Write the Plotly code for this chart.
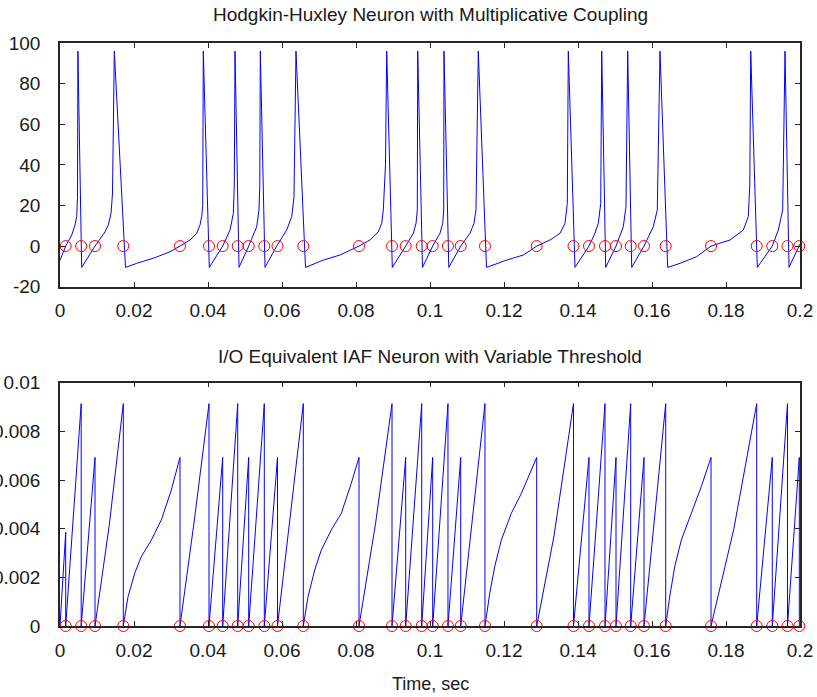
import plotly.graph_objects as go

# Hodgkin-Huxley membrane voltage (mV), turning points
hh_t = [0.0, 0.00154, 0.00316, 0.00405, 0.00451, 0.00473, 0.00484,
        0.00586, 0.00946, 0.01216, 0.01305, 0.01378, 0.01419, 0.01468,
        0.01770, 0.02073, 0.02522, 0.02973, 0.03243, 0.03514, 0.03695, 0.03784, 0.03830, 0.03857, 0.03873,
        0.04035, 0.04397, 0.04595, 0.04684, 0.04711, 0.04730,
        0.04838, 0.05100, 0.05316, 0.05378, 0.05400, 0.05414,
        0.05541, 0.05857, 0.06127, 0.06262, 0.06324, 0.06378,
        0.06635, 0.07116, 0.07568, 0.08081, 0.08378, 0.08603, 0.08695, 0.08738, 0.08797, 0.08830,
        0.08981, 0.09343, 0.09549, 0.09622, 0.09657, 0.09668,
        0.09797, 0.10073, 0.10270, 0.10343, 0.10370, 0.10378,
        0.10508, 0.10830, 0.11081, 0.11189, 0.11243, 0.11305,
        0.11527, 0.12073, 0.12522, 0.12884, 0.13243, 0.13514, 0.13649, 0.13711, 0.13738,
        0.13919, 0.14297, 0.14459, 0.14549, 0.14614, 0.14641,
        0.14749, 0.15027, 0.15224, 0.15297, 0.15343,
        0.15451, 0.15784, 0.16035, 0.16143, 0.16216,
        0.16424, 0.16757, 0.17208, 0.17595, 0.18108, 0.18468, 0.18603, 0.18643, 0.18668,
        0.18846, 0.19251, 0.19414, 0.19532, 0.19595,
        0.19703, 0.19981, 0.2]
hh_v = [-7, 0, 5.4, 10.4, 14.5, 24, 96,
        -10.5, 0, 7, 10.4, 16, 26, 96,
        -10.5, -8.5, -6, -2.8, 0, 3, 6.3, 10.4, 14.5, 20, 96,
        -10.5, 0, 7.9, 16, 30, 96,
        -10.5, 0, 9.5, 17.8, 30, 96,
        -10.5, 0, 7.9, 14.5, 24, 96,
        -10.5, -6.9, -4.4, 0, 3, 7, 11.2, 17.8, 40, 96,
        -10.5, 0, 6.3, 11.2, 17.8, 96,
        -10.5, 0, 6.3, 11.2, 17.8, 96,
        -10.5, 0, 6.3, 11.2, 17.8, 96,
        -10.5, -6.9, -4.4, 0, 3, 6.3, 11.2, 21, 96,
        -10.5, 0, 6.3, 11.2, 21, 96,
        -10.5, 0, 9.5, 19.5, 96,
        -10.5, 0, 9.5, 17.8, 96,
        -10.5, -8.5, -5.2, 0, 3, 7.9, 14.5, 30, 96,
        -10.5, 0, 7.9, 17.8, 96,
        -10.5, 0, 1]

# trigger times (zero crossings of the HH voltage) = IAF spike times
spike_t = [0.00154, 0.00573, 0.00946, 0.01711, 0.03243, 0.04027, 0.04397, 0.04803,
           0.05100, 0.05522, 0.05878, 0.06576, 0.08081, 0.08973, 0.09343, 0.09776,
           0.10073, 0.10486, 0.10830, 0.11486, 0.12884, 0.13878, 0.14297, 0.14730,
           0.15027, 0.15424, 0.15784, 0.16370, 0.17595, 0.18830, 0.19251, 0.19662,
           0.19981]
# integrator value reached at each trigger (variable threshold)
iaf_peak = [0.00385, 0.00914, 0.00693, 0.00914, 0.00693, 0.00914, 0.00693, 0.00914,
            0.00693, 0.00914, 0.00693, 0.00914, 0.00693, 0.00914, 0.00693, 0.00914,
            0.00693, 0.00914, 0.00693, 0.00914, 0.00693, 0.00914, 0.00693, 0.00914,
            0.00693, 0.00914, 0.00693, 0.00914, 0.00693, 0.00914, 0.00693, 0.00914,
            0.00693]
# extra points on the curved integrator ramps (key = spike number that ends the ramp)
ramp_t = {4: [0.01328],
          5: [0.01838, 0.02019, 0.02197, 0.02468, 0.02738, 0.03008],
          6: [0.03635],
          13: [0.06703, 0.06884, 0.07062, 0.07332, 0.07603, 0.07873],
          14: [0.08527],
          21: [0.11614, 0.11749, 0.11927, 0.12197, 0.12468, 0.12738],
          22: [0.13351],
          29: [0.16478, 0.16614, 0.16792, 0.17062, 0.17332],
          30: [0.18213]}
ramp_v = {4: [0.0041],
          5: [0.0012, 0.00217, 0.00285, 0.00353, 0.00436, 0.00559],
          6: [0.0044],
          13: [0.0012, 0.0023, 0.00312, 0.00395, 0.00463, 0.00587],
          14: [0.0042],
          21: [0.00134, 0.00244, 0.00353, 0.00463, 0.00545, 0.00641],
          22: [0.0037],
          29: [0.0012, 0.00244, 0.00353, 0.00463, 0.00573],
          30: [0.0040]}

# top panel y ticks (plain hyphen for the negative label, as in the original)
v_ticks = [-20, 0, 20, 40, 60, 80, 100]
v_ticktext = ["-20", "0", "20", "40", "60", "80", "100"]

iaf_x, iaf_y = [0.0], [0.0]
for k, (tk, pk) in enumerate(zip(spike_t, iaf_peak), 1):
    iaf_x += ramp_t.get(k, [])
    iaf_y += ramp_v.get(k, [])
    iaf_x += [tk, tk]
    iaf_y += [pk, 0.0]

FONT = "Liberation Sans, Arial, sans-serif"
BLUE = "#0000ff"
RED = "#ff0000"
TXT = "#1a1a1a"

fig = go.Figure()
fig.add_trace(go.Scatter(x=hh_t, y=hh_v, mode="lines", line=dict(color=BLUE, width=1),
                         xaxis="x", yaxis="y"))
fig.add_trace(go.Scatter(x=spike_t, y=[0] * len(spike_t), mode="markers", cliponaxis=False,
                         marker=dict(symbol="circle-open", size=11, color=RED, line=dict(width=1)),
                         xaxis="x", yaxis="y"))
fig.add_trace(go.Scatter(x=iaf_x, y=iaf_y, mode="lines", line=dict(color=BLUE, width=1),
                         xaxis="x2", yaxis="y2"))
fig.add_trace(go.Scatter(x=spike_t, y=[0] * len(spike_t), mode="markers", cliponaxis=False,
                         marker=dict(symbol="circle-open", size=11, color=RED, line=dict(width=1)),
                         xaxis="x2", yaxis="y2"))

ax = dict(showline=True, linecolor="#262626", linewidth=1.5, mirror="allticks",
          ticks="inside", ticklen=5, tickwidth=1, tickcolor="#262626",
          showgrid=False, zeroline=False, automargin=False,
          tickfont=dict(family=FONT, size=19, color=TXT))

fig.update_layout(
    width=817, height=697, autosize=False,
    margin=dict(l=60, r=17, t=43, b=71),
    plot_bgcolor="white", paper_bgcolor="white",
    showlegend=False,
    xaxis=dict(ax, domain=[0, 1], range=[0, 0.2], dtick=0.02, anchor="y", ticklabelstandoff=6),
    yaxis=dict(ax, domain=[0.582, 1], range=[-20, 100], tickvals=v_ticks, ticktext=v_ticktext,
               anchor="x", ticklabelstandoff=14),
    xaxis2=dict(ax, domain=[0, 1], range=[0, 0.2], dtick=0.02, anchor="y2", ticklabelstandoff=6),
    yaxis2=dict(ax, domain=[0, 0.4173], range=[0, 0.01], dtick=0.002, anchor="x2", ticklabelstandoff=14),
    annotations=[
        dict(text="Hodgkin-Huxley Neuron with Multiplicative Coupling", x=0.5, y=1.0497,
             xref="paper", yref="paper", yanchor="middle", showarrow=False,
             font=dict(family=FONT, size=19, color=TXT)),
        dict(text="I/O Equivalent IAF Neuron with Variable Threshold", x=0.5, y=0.4631,
             xref="paper", yref="paper", yanchor="middle", showarrow=False,
             font=dict(family=FONT, size=19, color=TXT)),
        dict(text="Time, sec", x=0.5, y=-0.0995,
             xref="paper", yref="paper", yanchor="middle", showarrow=False,
             font=dict(family=FONT, size=18, color=TXT)),
    ],
)

fig.write_html("out.html", config={"displayModeBar": False},
               post_script="document.body.style.margin='0';")
